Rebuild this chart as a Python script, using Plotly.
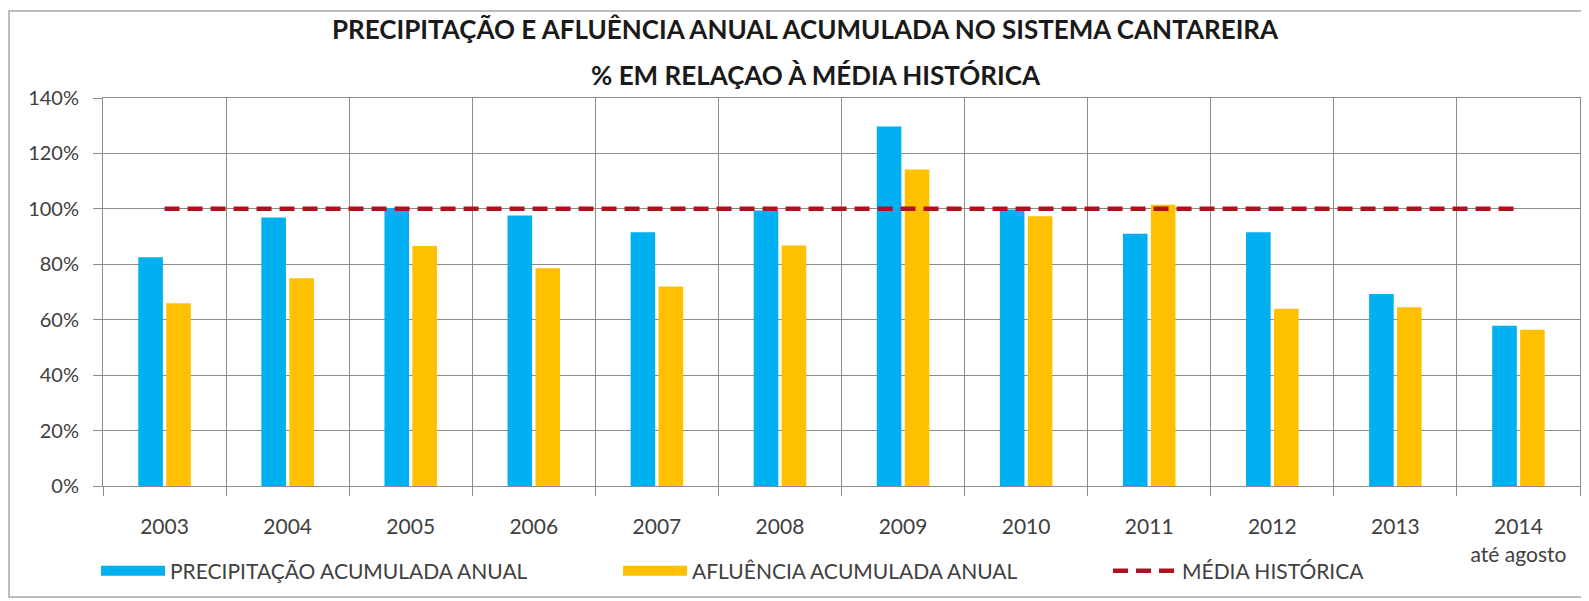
import plotly.graph_objects as go

# ---- data ----
years = ["2003", "2004", "2005", "2006", "2007", "2008", "2009", "2010", "2011", "2012", "2013", "2014"]
tick_labels = ["2003", "2004", "2005", "2006", "2007", "2008", "2009", "2010", "2011", "2012", "2013",
               "2014<br>até agosto"]
precipitacao = [82.5, 96.9, 100.3, 97.6, 91.6, 99.4, 129.7, 99.8, 91.0, 91.6, 69.3, 57.8]
afluencia = [65.9, 75.0, 86.6, 78.6, 72.0, 86.8, 114.2, 97.3, 101.5, 64.0, 64.5, 56.4]
media_historica = [100, 100, 100, 100, 100, 100, 100, 100, 100, 100, 100, 100]

title_line1 = "PRECIPITAÇÃO E AFLUÊNCIA ANUAL ACUMULADA NO SISTEMA CANTAREIRA"
title_line2 = "% EM RELAÇAO À MÉDIA HISTÓRICA"
name_prec = "PRECIPITAÇÃO ACUMULADA ANUAL"
name_aflu = "AFLUÊNCIA ACUMULADA ANUAL"
name_media = "MÉDIA HISTÓRICA"

BLUE = "#00B0F0"
YELLOW = "#FFC000"
RED = "#B01020"
GRID = "#8C8C8C"
TXT = "#404040"
FONT = "Lato"

# the page body has an 8px default margin; the figure is sized to fill the rest of the window
OFF = 8
W, H = 1589 - OFF, 601 - OFF
ML, MR, MT = 103 - OFF, 9, 98 - OFF
MB = H - (486 - OFF)
PW = W - ML - MR
PH = H - MT - MB


def px_x(p):
    return (p - OFF - ML) / PW


def px_y(p):
    return (H - MB - (p - OFF)) / PH


fig = go.Figure()
fig.add_trace(go.Bar(x=tick_labels, y=precipitacao, name=name_prec, marker=dict(color=BLUE, line=dict(width=0)),
                     showlegend=False))
fig.add_trace(go.Bar(x=tick_labels, y=afluencia, name=name_aflu, marker=dict(color=YELLOW, line=dict(width=0)),
                     showlegend=False))
fig.add_trace(go.Scatter(x=tick_labels, y=media_historica, name=name_media, mode="lines",
                         line=dict(color=RED, width=4.5, dash="15px,8px"), legend="legend3"))
# legend swatches
fig.add_trace(go.Scatter(x=[None], y=[None], name=name_prec, mode="lines",
                         line=dict(color=BLUE, width=12), legend="legend"))
fig.add_trace(go.Scatter(x=[None], y=[None], name=name_aflu, mode="lines",
                         line=dict(color=YELLOW, width=12), legend="legend2"))

leg_common = dict(orientation="h", yanchor="middle", xanchor="left", y=px_y(571),
                  font=dict(family=FONT, size=21, color=TXT), bgcolor="rgba(0,0,0,0)", itemwidth=64)

fig.update_layout(
    width=W, height=H,
    margin=dict(l=ML, r=MR, t=MT, b=MB),
    paper_bgcolor="white", plot_bgcolor="white",
    barmode="group", bargap=0.546, bargroupgap=0.12,
    font=dict(family=FONT, size=19, color=TXT),
    legend=dict(x=px_x(96), **leg_common),
    legend2=dict(x=px_x(618), **leg_common),
    legend3=dict(x=px_x(1108), **leg_common),
    xaxis=dict(type="category", tickson="boundaries", showgrid=True, gridcolor=GRID, gridwidth=1,
               ticks="outside", ticklen=9, tickcolor=GRID, showline=True, linecolor=GRID, mirror=True,
               tickfont=dict(family=FONT, size=21, color=TXT), ticklabelstandoff=22),
    yaxis=dict(range=[0, 140], dtick=20, ticksuffix="%", showgrid=True, gridcolor=GRID, gridwidth=1,
               ticks="outside", ticklen=9, tickcolor=GRID, showline=True, linecolor=GRID, mirror=True,
               zeroline=False, tickfont=dict(family=FONT, size=20, color=TXT), ticklabelstandoff=10),
    annotations=[
        dict(text="<b>" + title_line1 + "</b>", xref="paper", yref="paper", x=px_x(805), y=px_y(29),
             xanchor="center", yanchor="middle", showarrow=False,
             font=dict(family=FONT, size=26, color="#1A1A1A")),
        dict(text="<b>" + title_line2 + "</b>", xref="paper", yref="paper", x=px_x(816), y=px_y(75),
             xanchor="center", yanchor="middle", showarrow=False,
             font=dict(family=FONT, size=26, color="#1A1A1A")),
    ],
    shapes=[
        dict(type="rect", xref="paper", yref="paper", x0=px_x(9), x1=px_x(1584), y0=px_y(11), y1=px_y(597),
             line=dict(color="#A6A6A6", width=1.5), fillcolor="rgba(0,0,0,0)", layer="below"),
    ],
)

fig.write_html("out.html")
